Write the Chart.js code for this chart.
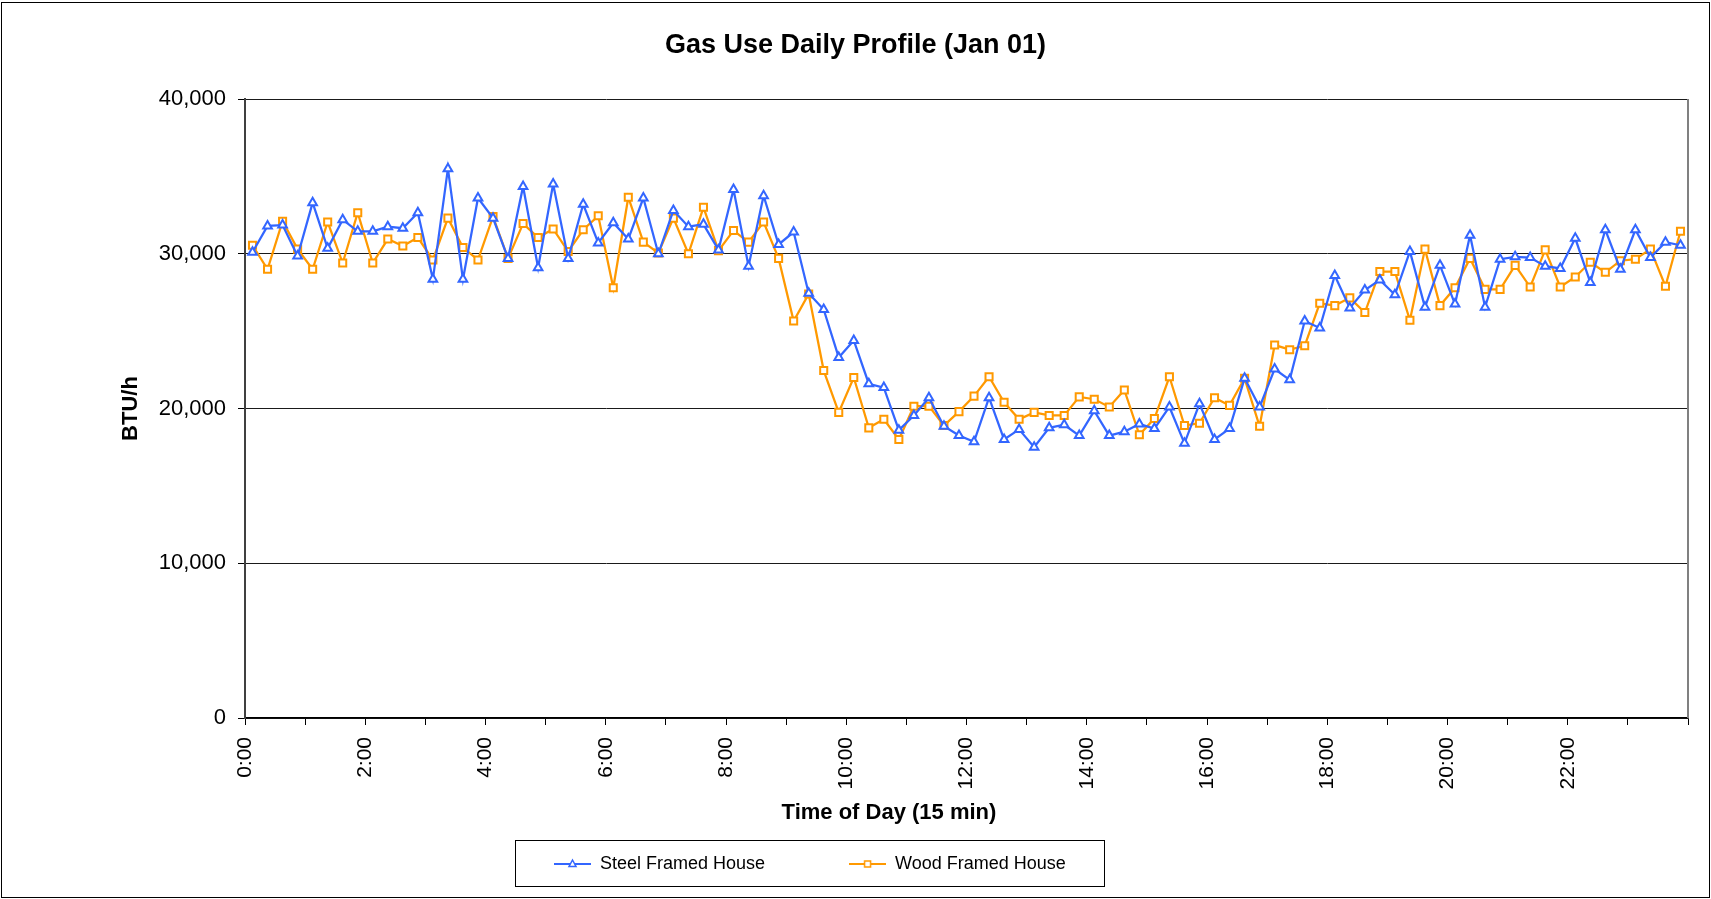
<!DOCTYPE html>
<html>
<head>
<meta charset="utf-8">
<title>Gas Use Daily Profile (Jan 01)</title>
<script src="https://cdn.jsdelivr.net/npm/chart.js@4.4.1/dist/chart.umd.min.js"></script>
<style>
    body { margin: 0; background: #fff; }
    #frame { position: absolute; left: 1px; top: 2px; width: 1707px; height: 894px; border: 1px solid #000; }
    #gasChart { display: block; }
</style>
</head>
<body>
<div id="frame">
    <canvas id="gasChart" width="1707" height="894"></canvas>
</div>
<script>
// 15 minute readings, 96 per day
const hourLabels = ['0:00', '2:00', '4:00', '6:00', '8:00', '10:00', '12:00', '14:00', '16:00', '18:00', '20:00', '22:00'];
const seriesNames = ['Steel Framed House', 'Wood Framed House'];

const steelHouse = [
    30100, 31800, 31850, 29850, 33300, 30350, 32200, 31450, 31450, 31750, 31650, 32650, 28350, 35500, 28350, 33600,
    32300, 29700, 34350, 29100, 34500, 29700, 33200, 30700, 32000, 30950, 33600, 30000, 32800, 31750, 31900, 30250,
    34150, 29200, 33750, 30600, 31400, 27450, 26400, 23300, 24400, 21600, 21350, 18600, 19550, 20700, 18850, 18250,
    17850, 20700, 18000, 18650, 17500, 18750, 18950, 18250, 19850, 18250, 18500, 19000, 18700, 20100, 17750, 20300,
    18000, 18700, 21950, 20100, 22550, 21850, 25650, 25200, 28600, 26500, 27650, 28300, 27350, 30150, 26550, 29250,
    26750, 31200, 26550, 29650, 29800, 29750, 29200, 29050, 31000, 28150, 31550, 29000, 31550, 29750, 30750, 30550
];

const woodHouse = [
    30550, 29000, 32100, 30300, 29000, 32050, 29400, 32650, 29400, 30950, 30500, 31050, 29600, 32300, 30400, 29600,
    32400, 29700, 31950, 31050, 31600, 30150, 31550, 32450, 27800, 33650, 30750, 30050, 32300, 30000, 33000, 30200,
    31500, 30750, 32050, 29700, 25650, 27400, 22450, 19750, 22000, 18750, 19300, 18000, 20150, 20150, 18900, 19800,
    20800, 22050, 20400, 19300, 19750, 19550, 19550, 20750, 20600, 20100, 21200, 18300, 19350, 22050, 18900, 19050,
    20700, 20200, 21950, 18850, 24100, 23800, 24050, 26800, 26650, 27150, 26200, 28850, 28850, 25700, 30300, 26650,
    27800, 29700, 27700, 27700, 29250, 27850, 30250, 27850, 28500, 29450, 28800, 29550, 29650, 30300, 27900, 31450
];

const yTicks = [0, 10000, 20000, 30000, 40000];

const BLUE = '#3366ff';
const ORANGE = '#ff9900';
const FONT = '"Liberation Sans", Arial, sans-serif';
const LEGEND_X = 552;     // left end of the first legend sample
const LEGEND_TOP = 768;   // legend text sits at top + padding + 9

Chart.defaults.font.family = FONT;
Chart.defaults.color = '#000';

// points sit in the middle of each 15 min slot
function toPoints(values) {
    return values.map((v, i) => ({ x: i + 0.5, y: v }));
}

// little line + marker picture used as legend sample
function legendSample(color, shape) {
    const c = document.createElement('canvas');
    c.width = 37;
    c.height = 14;
    const g = c.getContext('2d');
    g.strokeStyle = color;
    g.lineWidth = 2;
    g.beginPath();
    g.moveTo(0, 7);
    g.lineTo(37, 7);
    g.stroke();
    g.fillStyle = '#fff';
    g.lineWidth = 1.5;
    g.beginPath();
    if (shape === 'triangle') {
        g.moveTo(18.5, 3);
        g.lineTo(22, 9.5);
        g.lineTo(15, 9.5);
        g.closePath();
    } else {
        g.rect(15.5, 4, 6, 6);
    }
    g.fill();
    g.stroke();
    return c;
}

const samples = [legendSample(BLUE, 'triangle'), legendSample(ORANGE, 'rect')];

const framePlugin = {
    id: 'framePlugin',
    afterLayout(chart) {
        // title is centred on the whole canvas, not inside the right padding
        const tb = chart.titleBlock;
        tb.left += 10.5;
        tb.right += 10.5;

        // Excel puts the legend a bit left of centre and up under the axis title
        const lg = chart.legend;
        const pad = lg.options.labels.padding;
        const start = (lg.left + pad + lg.right - lg.lineWidths[0]) / 2;
        const shift = LEGEND_X - start;
        lg.left += shift;
        lg.right += shift;
        lg.top = LEGEND_TOP;
        lg.bottom = LEGEND_TOP + 125;
    },
    afterDraw(chart) {
        const { ctx, chartArea } = chart;
        ctx.save();

        // right edge of plot area
        ctx.strokeStyle = '#808080';
        ctx.lineWidth = 2;
        ctx.beginPath();
        ctx.moveTo(chartArea.right, chartArea.top);
        ctx.lineTo(chartArea.right, chartArea.bottom);
        ctx.stroke();

        // legend box
        ctx.strokeStyle = '#000';
        ctx.lineWidth = 1;
        ctx.strokeRect(LEGEND_X - 39 + 0.5, 837.5, 589, 46);

        // x axis title
        ctx.fillStyle = '#000';
        ctx.font = 'bold 22px ' + FONT;
        ctx.textAlign = 'center';
        ctx.textBaseline = 'middle';
        ctx.fillText('Time of Day (15 min)', 887, 810);

        ctx.restore();
    }
};

const ctx = document.getElementById('gasChart').getContext('2d');

new Chart(ctx, {
    type: 'line',
    data: {
        datasets: [{
            label: seriesNames[0],
            data: toPoints(steelHouse),
            borderColor: BLUE,
            borderWidth: 2.25,
            pointStyle: 'triangle',
            pointRadius: 5,
            pointBorderWidth: 2,
            pointBackgroundColor: '#fff',
            pointBorderColor: BLUE,
            tension: 0
        }, {
            label: seriesNames[1],
            data: toPoints(woodHouse),
            borderColor: ORANGE,
            borderWidth: 2.25,
            pointStyle: 'rect',
            pointRadius: 5,
            pointBorderWidth: 2,
            pointBackgroundColor: '#fff',
            pointBorderColor: ORANGE,
            tension: 0
        }]
    },
    options: {
        responsive: false,
        animation: false,
        devicePixelRatio: 1,
        layout: {
            padding: { left: 0, right: 21, top: 0, bottom: 39 }
        },
        plugins: {
            title: {
                display: true,
                text: 'Gas Use Daily Profile (Jan 01)',
                color: '#000',
                font: { size: 27, weight: 'bold' },
                padding: { top: 26, bottom: 37.6 }
            },
            legend: {
                position: 'bottom',
                maxHeight: 40,
                labels: {
                    color: '#000',
                    font: { size: 18 },
                    usePointStyle: true,
                    pointStyleWidth: 37,
                    padding: 84,
                    generateLabels: function (chart) {
                        const items = Chart.defaults.plugins.legend.labels.generateLabels(chart);
                        items.forEach(item => { item.pointStyle = samples[item.datasetIndex]; });
                        return items;
                    }
                }
            },
            tooltip: { enabled: false }
        },
        scales: {
            x: {
                type: 'linear',
                min: 0,
                max: 96,
                afterFit: function (scale) {
                    scale.height = 100;
                    scale.paddingLeft = 0;
                    scale.paddingRight = 0;
                },
                border: { display: true, color: '#000', width: 1.5 },
                grid: {
                    drawOnChartArea: false,
                    color: '#000',
                    tickColor: '#000',
                    tickLength: 7
                },
                ticks: {
                    stepSize: 4,
                    autoSkip: false,
                    minRotation: 90,
                    maxRotation: 90,
                    padding: 12,
                    color: '#000',
                    font: { size: 21 },
                    callback: function (value) {
                        return value % 8 === 0 && hourLabels[value / 8] ? hourLabels[value / 8] : '';
                    }
                }
            },
            y: {
                min: yTicks[0],
                max: yTicks[yTicks.length - 1],
                afterFit: function (scale) { scale.width = 243; },
                border: { display: true, color: '#404040', width: 2 },
                grid: {
                    color: '#1a1a1a',
                    lineWidth: 1,
                    tickColor: '#000',
                    tickLength: 7
                },
                ticks: {
                    stepSize: yTicks[1] - yTicks[0],
                    padding: 12,
                    color: '#000',
                    font: { size: 22 },
                    callback: function (value) { return value.toLocaleString('en-US'); }
                },
                title: {
                    display: true,
                    text: 'BTU/h',
                    color: '#000',
                    font: { size: 22, weight: 'bold' },
                    padding: { top: 116, bottom: 0 }
                }
            }
        }
    },
    plugins: [framePlugin]
});
</script>
</body>
</html>
